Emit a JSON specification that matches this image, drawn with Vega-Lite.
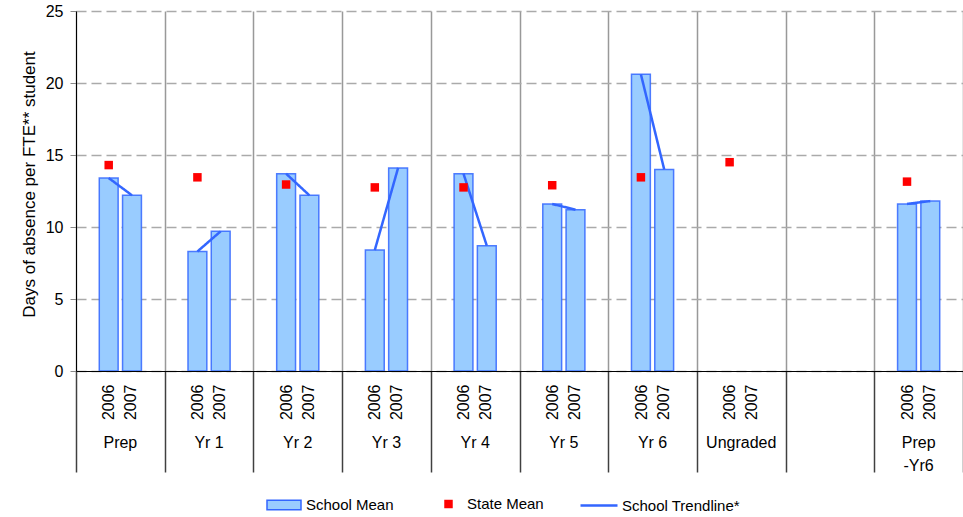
{
  "$schema": "https://vega.github.io/schema/vega-lite/v6.json",
  "width": 887,
  "height": 360,
  "autosize": {"type": "none"},
  "padding": {"left": 76, "top": 11, "right": 0, "bottom": 146},
  "background": "white",
  "config": {"font": "Liberation Sans", "view": {"stroke": null}, "legend": {"padding": 0, "titleLimit": 0}},
  "data": {
    "values": [
      {"group": "Prep", "year": "2006", "school": 13.4, "state": 14.3},
      {"group": "Prep", "year": "2007", "school": 12.2, "state": null},
      {"group": "Yr 1", "year": "2006", "school": 8.3, "state": 13.45},
      {"group": "Yr 1", "year": "2007", "school": 9.7, "state": null},
      {"group": "Yr 2", "year": "2006", "school": 13.7, "state": 12.95},
      {"group": "Yr 2", "year": "2007", "school": 12.2, "state": null},
      {"group": "Yr 3", "year": "2006", "school": 8.4, "state": 12.75},
      {"group": "Yr 3", "year": "2007", "school": 14.1, "state": null},
      {"group": "Yr 4", "year": "2006", "school": 13.7, "state": 12.75},
      {"group": "Yr 4", "year": "2007", "school": 8.7, "state": null},
      {"group": "Yr 5", "year": "2006", "school": 11.6, "state": 12.9},
      {"group": "Yr 5", "year": "2007", "school": 11.2, "state": null},
      {"group": "Yr 6", "year": "2006", "school": 20.6, "state": 13.45},
      {"group": "Yr 6", "year": "2007", "school": 14.0, "state": null},
      {"group": "Ungraded", "year": "2006", "school": null, "state": 14.5},
      {"group": "Ungraded", "year": "2007", "school": null, "state": null},
      {"group": "Prep-Yr6", "year": "2006", "school": 11.6, "state": 13.15},
      {"group": "Prep-Yr6", "year": "2007", "school": 11.8, "state": null}
    ]
  },
  "resolve": {"axis": {"x": "independent"}},
  "layer": [
    {
      "mark": {"type": "bar", "stroke": "#3366FF", "strokeWidth": 1.5, "strokeOpacity": 0.85},
      "encoding": {
        "x": {
          "field": "group", "type": "nominal", "sort": null,
          "scale": {"domain": ["Prep", "Yr 1", "Yr 2", "Yr 3", "Yr 4", "Yr 5", "Yr 6", "Ungraded", " ", "Prep-Yr6"], "paddingInner": 0, "paddingOuter": 0},
          "axis": {
            "orient": "bottom", "title": null, "domain": true, "domainColor": "black", "domainWidth": 1,
            "ticks": false, "grid": false,
            "labelAngle": 270, "labelAlign": "right", "labelBaseline": "middle",
            "labelFontSize": 16, "labelColor": "black", "labelPadding": 13, "labelLineHeight": 22, "labelOffset": -11,
            "labelOverlap": false, "labelBound": false, "labelFlush": false,
            "labelExpr": "datum.value === ' ' ? '' : ['2006', '2007']",
            "zindex": 1
          }
        },
        "xOffset": {"field": "year", "type": "nominal", "scale": {"domain": ["2006", "2007"], "paddingInner": 0.19, "paddingOuter": 1.095}},
        "y": {
          "field": "school", "type": "quantitative",
          "scale": {"domain": [0, 25], "nice": false},
          "axis": {
            "title": "Days of absence per FTE** student", "values": [0, 5, 10, 15, 20, 25],
            "grid": true, "gridDash": [10, 5], "gridColor": "#aaaaaa", "gridWidth": 1.5,
            "domainColor": "black", "tickColor": "#888888", "tickSize": 6,
            "labelFontSize": 16, "labelColor": "black", "labelPadding": 7,
            "titleFontSize": 17, "titleFontWeight": "normal", "titleColor": "black", "titlePadding": 7, "titleY": 173
          }
        },
        "fill": {
          "datum": "School Mean", "type": "nominal",
          "scale": {"domain": ["School Mean"], "range": ["#99CCFF"]},
          "legend": {
            "orient": "none", "legendX": 190, "legendY": 476, "title": null,
            "symbolType": "M-1,-0.28H1V0.28H-1Z", "symbolSize": 1156,
            "symbolFillColor": "#99CCFF", "symbolStrokeColor": "#3366FF", "symbolStrokeWidth": 1.5, "symbolOpacity": 1,
            "labelFontSize": 15, "labelColor": "black", "labelOffset": 4
          }
        }
      }
    },
    {
      "mark": {"type": "line", "strokeWidth": 2.5, "color": "#3366FF"},
      "encoding": {
        "x": {
          "field": "group", "type": "nominal", "sort": null,
          "scale": {"domain": ["Prep", "Yr 1", "Yr 2", "Yr 3", "Yr 4", "Yr 5", "Yr 6", "Ungraded", " ", "Prep-Yr6"], "paddingInner": 0, "paddingOuter": 0},
          "axis": {
            "orient": "bottom", "title": null, "labels": false, "domain": false,
            "ticks": true, "tickBand": "extent", "tickSize": 101, "tickColor": "#404040", "tickWidth": 1.5,
            "grid": true, "gridColor": "#999999", "gridWidth": 1.5
          }
        },
        "xOffset": {"field": "year", "type": "nominal", "scale": {"domain": ["2006", "2007"], "paddingInner": 0.19, "paddingOuter": 1.095}},
        "y": {
          "field": "school", "type": "quantitative",
          "scale": {"domain": [0, 25], "nice": false},
          "axis": {
            "title": "Days of absence per FTE** student", "values": [0, 5, 10, 15, 20, 25],
            "grid": true, "gridDash": [10, 5], "gridColor": "#aaaaaa", "gridWidth": 1.5,
            "domainColor": "black", "tickColor": "#888888", "tickSize": 6,
            "labelFontSize": 16, "labelColor": "black", "labelPadding": 7,
            "titleFontSize": 17, "titleFontWeight": "normal", "titleColor": "black", "titlePadding": 7, "titleY": 173
          }
        },
        "strokeDash": {
          "datum": "School Trendline*", "type": "nominal",
          "scale": {"domain": ["School Trendline*"], "range": [[1, 0]]},
          "legend": {
            "orient": "none", "legendX": 503, "legendY": 474.5, "title": null,
            "symbolType": "stroke", "symbolSize": 1369,
            "symbolStrokeColor": "#3366FF", "symbolStrokeWidth": 2.5, "symbolOpacity": 1,
            "labelFontSize": 15, "labelColor": "black", "labelOffset": 3
          }
        },
        "detail": {"field": "group", "type": "nominal"}
      }
    },
    {
      "mark": {"type": "point", "size": 72, "opacity": 1, "filled": true, "color": "#FF0000"},
      "encoding": {
        "x": {
          "field": "group", "type": "nominal", "sort": null,
          "scale": {"domain": ["Prep", "Yr 1", "Yr 2", "Yr 3", "Yr 4", "Yr 5", "Yr 6", "Ungraded", " ", "Prep-Yr6"], "paddingInner": 0, "paddingOuter": 0},
          "axis": {
            "orient": "bottom", "title": null, "domain": false, "ticks": false, "grid": false,
            "labelAngle": 0, "labelAlign": "center", "labelBaseline": "top",
            "labelFontSize": 16, "labelColor": "black", "labelPadding": 63, "labelLineHeight": 23,
            "labelOverlap": false, "labelBound": false, "labelFlush": false,
            "labelExpr": "datum.value === 'Prep-Yr6' ? ['Prep', '-Yr6'] : datum.value"
          }
        },
        "xOffset": {"field": "year", "type": "nominal", "scale": {"domain": ["2006", "2007"], "paddingInner": 0.19, "paddingOuter": 1.095}},
        "y": {
          "field": "state", "type": "quantitative",
          "scale": {"domain": [0, 25], "nice": false},
          "axis": {
            "title": "Days of absence per FTE** student", "values": [0, 5, 10, 15, 20, 25],
            "grid": true, "gridDash": [10, 5], "gridColor": "#aaaaaa", "gridWidth": 1.5,
            "domainColor": "black", "tickColor": "#888888", "tickSize": 6,
            "labelFontSize": 16, "labelColor": "black", "labelPadding": 7,
            "titleFontSize": 17, "titleFontWeight": "normal", "titleColor": "black", "titlePadding": 7, "titleY": 173
          }
        },
        "shape": {
          "datum": "State Mean", "type": "nominal",
          "scale": {"domain": ["State Mean"], "range": ["square"]},
          "legend": {
            "orient": "none", "legendX": 365, "legendY": 485.5, "title": null,
            "symbolSize": 72, "symbolFillColor": "#FF0000", "symbolStrokeColor": "#FF0000", "symbolStrokeWidth": 0, "symbolOpacity": 1,
            "labelFontSize": 15, "labelColor": "black", "labelOffset": 11
          }
        }
      }
    }
  ]
}
